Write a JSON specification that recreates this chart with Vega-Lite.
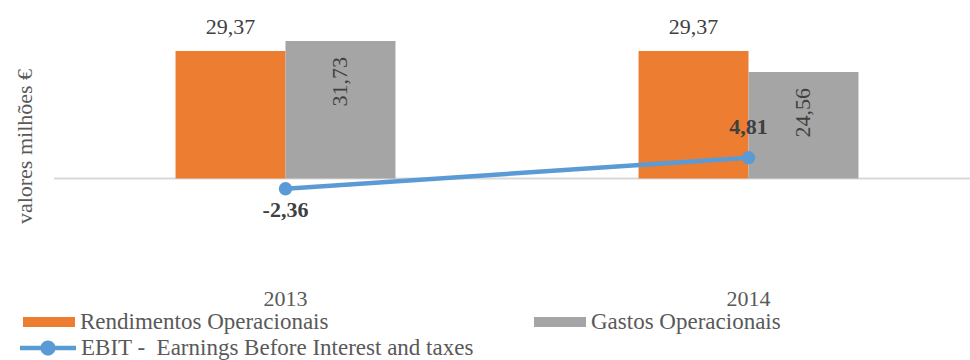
{
  "$schema": "https://vega.github.io/schema/vega-lite/v6.json",
  "width": 926,
  "height": 282,
  "autosize": {"type": "none"},
  "padding": {"left": 54, "top": 5, "right": 0, "bottom": 73},
  "config": {
    "font": "'Liberation Serif', serif",
    "view": {"stroke": null},
    "locale": {"number": {"decimal": ",", "thousands": ".", "grouping": [3], "currency": ["", " €"], "minus": "-"}},
    "legend": {"labelFont": "'Liberation Serif', serif", "labelFontSize": 23, "labelColor": "#595959", "padding": 0, "labelOffset": 5, "title": null, "labelLimit": 600}
  },
  "data": {
    "values": [
      {"year": "2013", "kind": "bar", "series": "Rendimentos Operacionais", "value": 29.37},
      {"year": "2013", "kind": "bar", "series": "Gastos Operacionais", "value": 31.73},
      {"year": "2014", "kind": "bar", "series": "Rendimentos Operacionais", "value": 29.37},
      {"year": "2014", "kind": "bar", "series": "Gastos Operacionais", "value": 24.56},
      {"year": "2013", "kind": "line", "series": "EBIT - \u00a0Earnings Before Interest and taxes", "value": -2.36},
      {"year": "2014", "kind": "line", "series": "EBIT - \u00a0Earnings Before Interest and taxes", "value": 4.81}
    ]
  },
  "encoding": {
    "x": {
      "field": "year", "type": "nominal",
      "scale": {"paddingInner": 0.525, "paddingOuter": 0.2625},
      "axis": {"title": null, "labelAngle": 0, "ticks": false, "domain": false, "labelFontSize": 22, "labelColor": "#595959", "labelPadding": 1}
    },
    "y": {
      "field": "value", "type": "quantitative",
      "scale": {"domain": [-25, 40], "nice": false, "zero": false},
      "axis": {"title": "valores milhões €", "labels": false, "ticks": false, "domain": false, "grid": false, "titleFontSize": 22, "titleFontWeight": "normal", "titleColor": "#595959", "titlePadding": 18}
    }
  },
  "layer": [
    {
      "data": {"values": [{"z": 0}]},
      "mark": {"type": "rule", "color": "#D9D9D9", "strokeWidth": 2},
      "encoding": {"x": null, "y": {"field": "z", "type": "quantitative"}}
    },
    {
      "transform": [{"filter": "datum.kind == 'bar'"}],
      "mark": {"type": "bar"},
      "encoding": {
        "xOffset": {"field": "series", "type": "nominal", "scale": {"domain": ["Rendimentos Operacionais", "Gastos Operacionais"], "paddingInner": 0, "paddingOuter": 0}},
        "color": {
          "field": "series", "type": "nominal",
          "scale": {"domain": ["Rendimentos Operacionais", "Gastos Operacionais"], "range": ["#ED7D31", "#A5A5A5"]},
          "legend": {"orient": "none", "legendX": -31, "legendY": 291, "direction": "horizontal", "columnPadding": 205, "symbolType": "M-1,-0.19H1V0.19H-1Z", "symbolSize": 2704, "symbolStrokeWidth": 0, "symbolOpacity": 1}
        }
      }
    },
    {
      "transform": [{"filter": "datum.series == 'Rendimentos Operacionais'"}],
      "mark": {"type": "text", "fontSize": 22, "color": "#404040", "baseline": "alphabetic", "dy": -17},
      "encoding": {
        "xOffset": {"field": "series", "type": "nominal"},
        "text": {"field": "value", "type": "quantitative", "format": ".2f"}
      }
    },
    {
      "transform": [{"filter": "datum.series == 'Gastos Operacionais'"}],
      "mark": {"type": "text", "fontSize": 22, "color": "#404040", "angle": 270, "align": "right", "baseline": "middle", "dx": -16},
      "encoding": {
        "xOffset": {"field": "series", "type": "nominal"},
        "text": {"field": "value", "type": "quantitative", "format": ".2f"}
      }
    },
    {
      "transform": [{"filter": "datum.kind == 'line'"}],
      "mark": {"type": "line", "strokeWidth": 4.5},
      "encoding": {
        "stroke": {
          "field": "series", "type": "nominal",
          "scale": {"range": ["#5B9BD5"]},
          "legend": {"orient": "none", "legendX": -34, "legendY": 315, "symbolType": "M-1,-0.08H1V0.08H-1Z M-0.27,0A0.27,0.27 0 1,1 0.27,0A0.27,0.27 0 1,1 -0.27,0Z", "symbolSize": 3136, "encode": {"symbols": {"update": {"fill": {"value": "#5B9BD5"}, "strokeWidth": {"value": 0}, "opacity": {"value": 1}}}}}
        }
      }
    },
    {
      "transform": [{"filter": "datum.kind == 'line'"}],
      "mark": {"type": "point", "filled": true, "size": 180, "color": "#5B9BD5", "opacity": 1}
    },
    {
      "transform": [{"filter": "datum.kind == 'line' && datum.value < 0"}],
      "mark": {"type": "text", "fontSize": 22, "fontWeight": "bold", "color": "#404040", "baseline": "alphabetic", "dy": 28},
      "encoding": {"text": {"field": "value", "type": "quantitative", "format": ".2f"}}
    },
    {
      "transform": [{"filter": "datum.kind == 'line' && datum.value > 0"}],
      "mark": {"type": "text", "fontSize": 22, "fontWeight": "bold", "color": "#404040", "baseline": "alphabetic", "dy": -24},
      "encoding": {"text": {"field": "value", "type": "quantitative", "format": ".2f"}}
    }
  ]
}
